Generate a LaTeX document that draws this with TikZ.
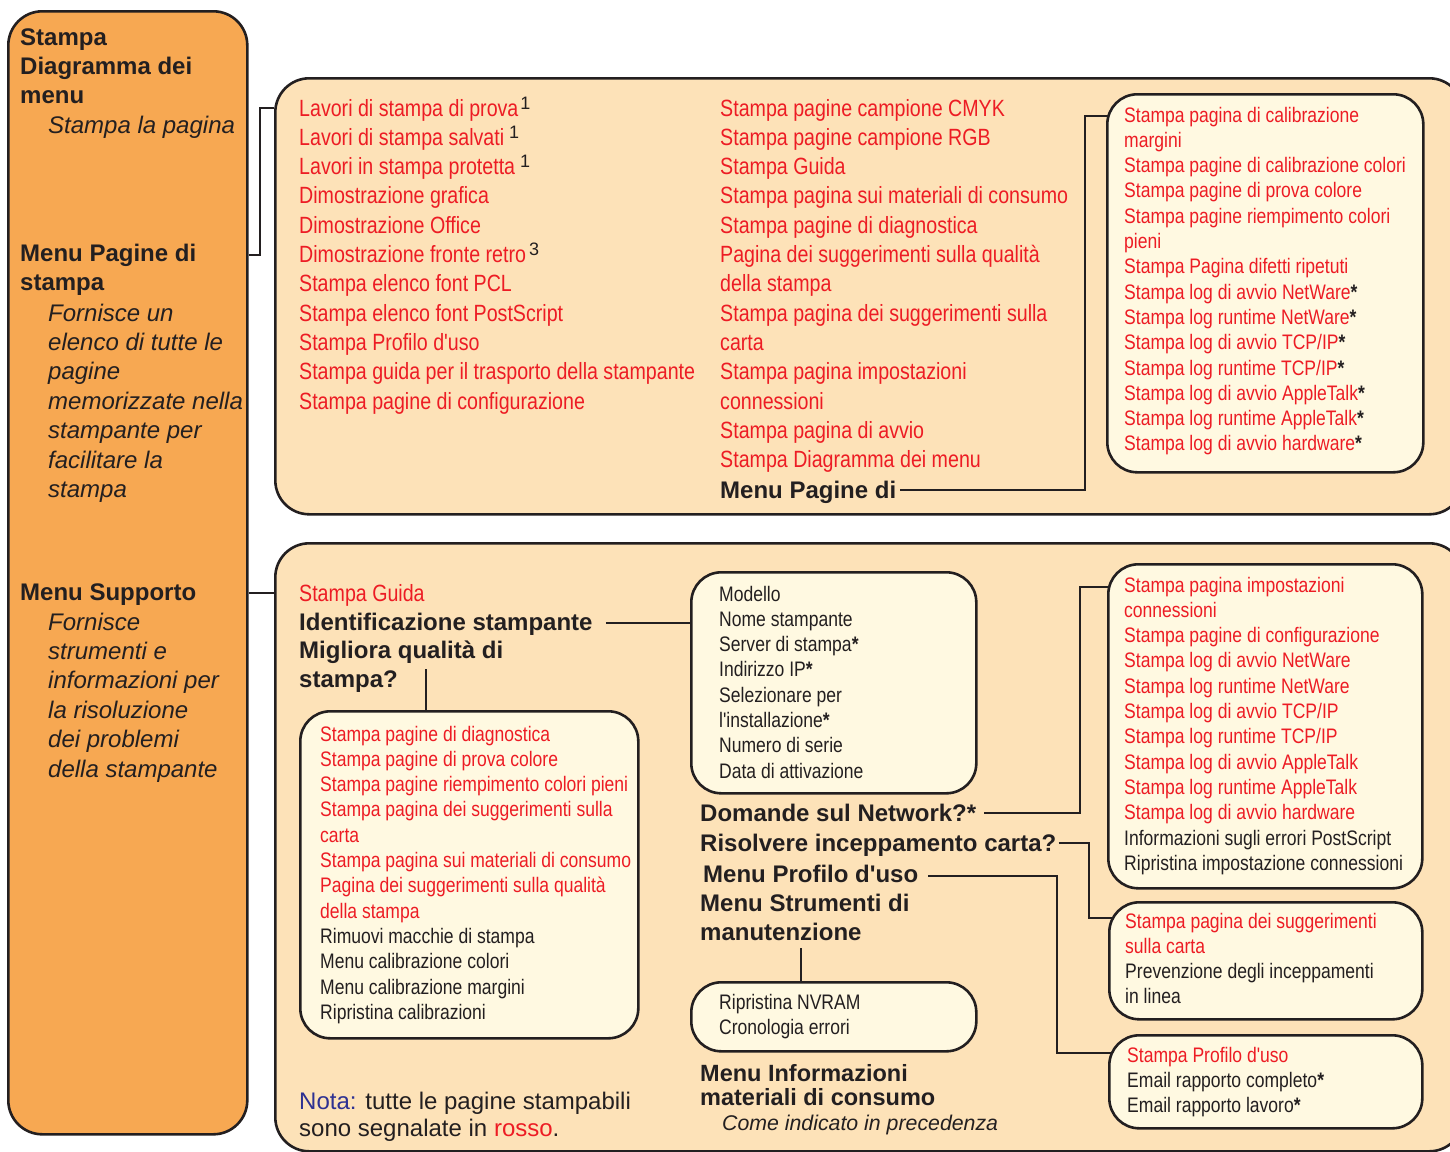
\documentclass[tikz,border=0pt]{standalone}
\usepackage{fontspec}
\setmainfont{Liberation Sans}
\newfontfamily\mf{Liberation Sans}
\newfontfamily\cnd{Liberation Sans}[FakeStretch=0.835]
\usetikzlibrary{calc}
\pgfdeclarelayer{back}
\pgfdeclarelayer{mid}
\pgfsetlayers{back,mid,main}
\definecolor{ink}{RGB}{35,31,32}
\definecolor{redc}{RGB}{237,28,36}
\definecolor{orangef}{RGB}{247,168,82}
\definecolor{peach}{RGB}{253,226,184}
\definecolor{cream}{RGB}{255,249,225}
\definecolor{notab}{RGB}{46,49,146}
\newcommand\blk[1]{{\color{ink}#1}}
\newcommand\st{{\color{ink}\bfseries*}}
\newcommand\supn[2][2pt]{\kern#1\raisebox{7pt}{\color{ink}\mf\fontsize{18}{18}\selectfont #2}}
\begin{document}
\begin{tikzpicture}[x=1pt,y=-1pt,
  boxline/.style={draw=ink,line width=2.6pt},
  bigbox/.style={boxline,fill=peach,rounded corners=34pt,anchor=north west,inner sep=0pt},
  inbox/.style={boxline,fill=cream,rounded corners=30pt,anchor=north west,inner sep=0pt},
  conn/.style={draw=ink,line width=2.4pt},
  txt/.style={inner sep=0pt,anchor=base west,align=left,text=ink},
  redt/.style={txt,text=redc,font=\cnd\fontsize{23.5}{29.3}\selectfont},
  smt/.style={txt,font=\cnd\fontsize{21}{25.3}\selectfont},
  hd/.style={txt,font=\mf\bfseries\fontsize{24}{29.4}\selectfont},
  itx/.style={txt,font=\mf\itshape\fontsize{24}{29.4}\selectfont},
]
\useasboundingbox (0,0) rectangle (1450,1151);

% big boxes
\begin{pgfonlayer}{back}
\node[bigbox,fill=orangef,minimum width=239pt,minimum height=1123pt] (L) at (7,10) {};
\node[bigbox,minimum width=1188pt,minimum height=436pt] (T) at (274,77) {};
\node[bigbox,minimum width=1188pt,minimum height=608pt] (Bt) at (274,542) {};
\end{pgfonlayer}

% inner boxes
\node[inbox,minimum width=316pt,minimum height=378pt] (B1) at (1106,93) {};
\node[inbox,minimum width=285pt,minimum height=221pt] (M) at (690,571) {};
\node[inbox,minimum width=338pt,minimum height=327pt] (D) at (299,710) {};
\node[inbox,minimum width=285pt,minimum height=69pt] (R) at (690,981) {};
\node[inbox,minimum width=314pt,minimum height=324pt] (BA) at (1107,563) {};
\node[inbox,minimum width=313pt,minimum height=117pt] (BB) at (1108,901) {};
\node[inbox,minimum width=313pt,minimum height=93pt] (BC) at (1108,1034) {};

% left column (base anchor = last line, so shift down by (n-1) lines)
\node[hd,yshift=-2*29.4pt] (h1) at (20,45) {Stampa\\Diagramma dei\\menu};
\node[itx] (i1) at (48,133) {Stampa la pagina};
\node[hd,yshift=-29.4pt] (h2) at (20,261) {Menu Pagine di\\stampa};
\node[itx,yshift=-6*29.4pt] (i2) at (48,321) {Fornisce un\\elenco di tutte le\\pagine\\memorizzate nella\\stampante per\\facilitare la\\stampa};
\node[hd] (h3) at (20,600) {Menu Supporto};
\node[itx,yshift=-5*29.4pt] (i3) at (48,630) {Fornisce\\strumenti e\\informazioni per\\la risoluzione\\dei problemi\\della stampante};

% top box
\node[redt,yshift=-10*29.3pt] (tc1) at (299,116) {Lavori di stampa di prova\supn{1}\\Lavori di stampa salvati\supn[5pt]{1}\\Lavori in stampa protetta\supn[5pt]{1}\\Dimostrazione grafica\\Dimostrazione Office\\Dimostrazione fronte retro\supn[3pt]{3}\\Stampa elenco font PCL\\Stampa elenco font PostScript\\Stampa Profilo d'uso\\Stampa guida per il trasporto della stampante\\Stampa pagine di configurazione};
\node[redt,yshift=-12*29.3pt] (tc2) at (720,116) {Stampa pagine campione CMYK\\Stampa pagine campione RGB\\Stampa Guida\\Stampa pagina sui materiali di consumo\\Stampa pagine di diagnostica\\Pagina dei suggerimenti sulla qualità\\della stampa\\Stampa pagina dei suggerimenti sulla\\carta\\Stampa pagina impostazioni\\connessioni\\Stampa pagina di avvio\\Stampa Diagramma dei menu};
\node[hd] (mpd) at (720,498) {Menu Pagine di};
\node[smt,text=redc,yshift=-13*25.3pt] (t1) at (1124,122) {Stampa pagina di calibrazione\\margini\\Stampa pagine di calibrazione colori\\Stampa pagine di prova colore\\Stampa pagine riempimento colori\\pieni\\Stampa Pagina difetti ripetuti\\Stampa log di avvio NetWare\st\\Stampa log runtime NetWare\st\\Stampa log di avvio TCP/IP\st\\Stampa log runtime TCP/IP\st\\Stampa log di avvio AppleTalk\st\\Stampa log runtime AppleTalk\st\\Stampa log di avvio hardware\st};

% bottom box
\node[redt] (sg) at (299,601) {Stampa Guida};
\node[hd] (ident) at (299,630) {Identificazione stampante};
\node[hd,yshift=-29.4pt] (mq) at (299,658) {Migliora qualità di\\stampa?};
\node[smt,yshift=-7*25.3pt] (mt) at (719,601) {Modello\\Nome stampante\\Server di stampa\st\\Indirizzo IP\st\\Selezionare per\\l'installazione\st\\Numero di serie\\Data di attivazione};
\node[smt,text=redc,yshift=-11*25.3pt] (dt) at (320,741) {Stampa pagine di diagnostica\\Stampa pagine di prova colore\\Stampa pagine riempimento colori pieni\\Stampa pagina dei suggerimenti sulla\\carta\\Stampa pagina sui materiali di consumo\\Pagina dei suggerimenti sulla qualità\\della stampa\\\blk{Rimuovi macchie di stampa}\\\blk{Menu calibrazione colori}\\\blk{Menu calibrazione margini}\\\blk{Ripristina calibrazioni}};
\node[hd] (dom) at (700,821) {Domande sul Network?*};
\node[hd] (ris) at (700,851) {Risolvere inceppamento carta?};
\node[hd] (prof) at (703,882) {Menu Profilo d'uso};
\node[hd,yshift=-29.4pt] (man) at (700,911) {Menu Strumenti di\\manutenzione};
\node[smt,yshift=-25.3pt] (rt) at (719,1009) {Ripristina NVRAM\\Cronologia errori};
\node[txt,font=\mf\bfseries\fontsize{23.5}{24.5}\selectfont,yshift=-24.5pt] (inf) at (700,1081) {Menu Informazioni\\materiali di consumo};
\node[txt,font=\mf\itshape\fontsize{21.3}{24}\selectfont] (come) at (722,1130) {Come indicato in precedenza};
\node[txt,font=\mf\fontsize{24}{27}\selectfont,yshift=-27pt] (nota) at (299,1109) {\textcolor{notab}{Nota:} tutte le pagine stampabili\\sono segnalate in \textcolor{redc}{rosso}.};
\node[smt,text=redc,yshift=-11*25.3pt] (ta) at (1124,592) {Stampa pagina impostazioni\\connessioni\\Stampa pagine di configurazione\\Stampa log di avvio NetWare\\Stampa log runtime NetWare\\Stampa log di avvio TCP/IP\\Stampa log runtime TCP/IP\\Stampa log di avvio AppleTalk\\Stampa log runtime AppleTalk\\Stampa log di avvio hardware\\\blk{Informazioni sugli errori PostScript}\\\blk{Ripristina impostazione connessioni}};
\node[smt,text=redc,yshift=-3*25.3pt] (tb) at (1125,928) {Stampa pagina dei suggerimenti\\sulla carta\\\blk{Prevenzione degli inceppamenti}\\\blk{in linea}};
\node[smt,text=redc,yshift=-2*25.3pt] (tcc) at (1127,1062) {Stampa Profilo d'uso\\\blk{Email rapporto completo\st}\\\blk{Email rapporto lavoro\st}};

% connectors
\begin{pgfonlayer}{mid}
\draw[conn] (L.east |- 0,255) -- (260,255) |- (T.west |- 0,108);
\draw[conn] (L.east |- 0,593) -- (Bt.west |- 0,593);
\draw[conn] ($(mpd.base east)+(4,-8)$) -| (1085,116) -- ($(B1.west |- 0,116)+(4,0)$);
\draw[conn] ($(ident.base east)+(13,-7)$) -- (M.west |- 0,623);
\draw[conn] (426,669) -- (426,669 |- D.north);
\draw[conn] (801,948) -- (801,948 |- R.north);
\draw[conn] ($(dom.base east)+(8,-8)$) -| (1080,587) -- ($(BA.west |- 0,587)+(4,0)$);
\draw[conn] ($(ris.base east)+(2,-8)$) -| (1089,918) -- ($(BB.west |- 0,918)+(5,0)$);
\draw[conn] ($(prof.base east)+(10,-6)$) -| (1057,1053) -- ($(BC.west |- 0,1053)+(5,0)$);
\end{pgfonlayer}
\end{tikzpicture}
\end{document}
